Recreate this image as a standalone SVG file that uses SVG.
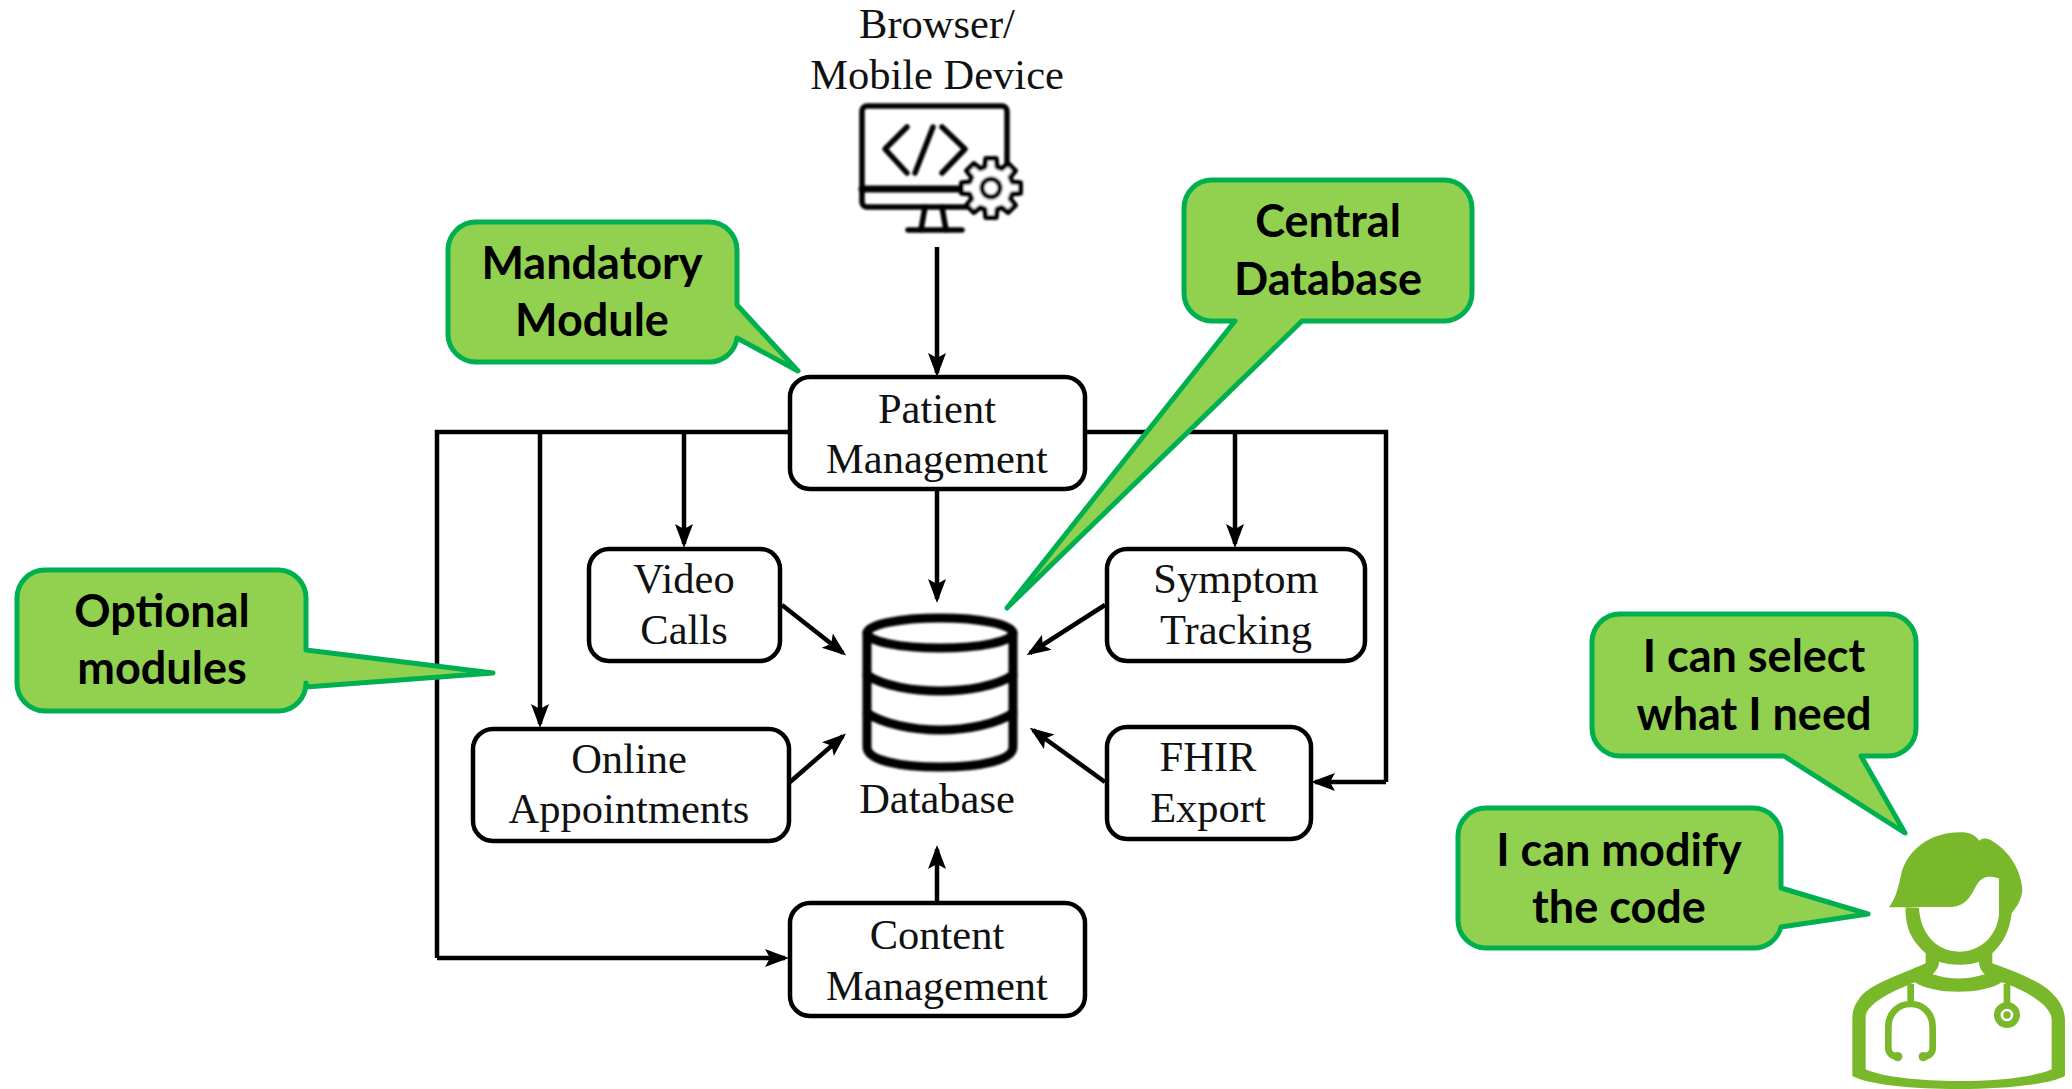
<svg xmlns="http://www.w3.org/2000/svg" width="2072" height="1089" viewBox="0 0 2072 1089">
<defs>
<marker id="ah" markerUnits="userSpaceOnUse" markerWidth="24" markerHeight="20" viewBox="0 0 24 20" refX="20" refY="10" orient="auto"><path d="M0 1 L24 10 L0 19 L5 10Z" fill="#000"/></marker>
<filter id="soft" x="-5%" y="-5%" width="110%" height="110%"><feGaussianBlur stdDeviation="0.9"/></filter>
</defs>
<style>
.box{fill:#fff;stroke:#000;stroke-width:4.5}
.t{font-family:"Liberation Serif","Times New Roman",serif;font-size:42.5px;fill:#111;text-anchor:middle}
.c{font-family:Lato,"Open Sans",sans-serif;font-weight:700;font-size:45px;fill:#000;text-anchor:middle}
.cb{fill:#92D050;stroke:#00B050;stroke-width:5;stroke-linejoin:round}
.ln{fill:none;stroke:#000;stroke-width:4.5}
.ar{fill:none;stroke:#000;stroke-width:4.5;marker-end:url(#ah)}
.ic{fill:none;stroke:#000;stroke-linecap:round;stroke-linejoin:round;filter:url(#soft)}
</style>
<rect width="2072" height="1089" fill="#fff"/>
<g id="connectors">
<path class="ln" d="M790 432H437V958"/>
<path class="ln" d="M1085 432H1386V782"/>
<path class="ar" d="M937 247V373"/>
<path class="ar" d="M937 490V599"/>
<path class="ar" d="M540 432V724"/>
<path class="ar" d="M684 432V544"/>
<path class="ar" d="M1235 432V544"/>
<path class="ar" d="M1386 782H1315"/>
<path class="ar" d="M437 958H785"/>
<path class="ar" d="M937 903V849"/>
<path class="ar" d="M782 605L843 653"/>
<path class="ar" d="M1105 605L1030 653"/>
<path class="ar" d="M790 782L843 736"/>
<path class="ar" d="M1105 782L1033 730"/>
</g>
<g id="browser">
<text class="t" x="937" y="38">Browser/</text>
<text class="t" x="937" y="89">Mobile Device</text>
<g class="ic">
<rect x="862" y="106" width="145" height="101" rx="5" stroke-width="5.5"/>
<path d="M862 189H975" stroke-width="7"/>
<path d="M907 127L885 149L907 173M933 127L915 173M942 127L965 149L942 173" stroke-width="5.5"/>
<path d="M925 207L921 230M942 207L946 230" stroke-width="5.5"/>
<path d="M908 230H962" stroke-width="5.5"/>
<g transform="translate(991 188)">
<path fill="#fff" stroke-width="5" d="M21.1 -6.1L29.5 -5.2L29.5 5.2L21.1 6.1L19.2 10.6L24.5 17.2L17.2 24.5L10.6 19.2L6.1 21.1L5.2 29.5L-5.2 29.5L-6.1 21.1L-10.6 19.2L-17.2 24.5L-24.5 17.2L-19.2 10.6L-21.1 6.1L-29.5 5.2L-29.5 -5.2L-21.1 -6.1L-19.2 -10.6L-24.5 -17.2L-17.2 -24.5L-10.6 -19.2L-6.1 -21.1L-5.2 -29.5L5.2 -29.5L6.1 -21.1L10.6 -19.2L17.2 -24.5L24.5 -17.2L19.2 -10.6Z"/>
<circle r="9" stroke-width="5"/>
</g>
</g>
</g>
<g id="patient-management">
<rect class="box" x="790" y="377" width="295" height="112" rx="20"/>
<text class="t" x="937" y="423">Patient</text>
<text class="t" x="937" y="473">Management</text>
</g>
<g id="video-calls">
<rect class="box" x="589" y="549" width="191" height="112" rx="20"/>
<text class="t" x="684" y="593">Video</text>
<text class="t" x="684" y="644">Calls</text>
</g>
<g id="symptom-tracking">
<rect class="box" x="1107" y="549" width="258" height="112" rx="20"/>
<text class="t" x="1236" y="593">Symptom</text>
<text class="t" x="1236" y="644">Tracking</text>
</g>
<g id="online-appointments">
<rect class="box" x="473" y="729" width="316" height="112" rx="20"/>
<text class="t" x="629" y="773">Online</text>
<text class="t" x="629" y="823">Appointments</text>
</g>
<g id="fhir-export">
<rect class="box" x="1107" y="727" width="204" height="112" rx="20"/>
<text class="t" x="1208" y="771">FHIR</text>
<text class="t" x="1208" y="822">Export</text>
</g>
<g id="content-management">
<rect class="box" x="790" y="903" width="295" height="113" rx="20"/>
<text class="t" x="937" y="949">Content</text>
<text class="t" x="937" y="1000">Management</text>
</g>
<g id="database">
<g class="ic" stroke-width="9">
<ellipse cx="940" cy="633" rx="73" ry="15"/>
<path d="M867 633V747C867 760 898 767 940 767C982 767 1013 760 1013 747V633"/>
<path d="M867 675C883 686 913 691 940 691C967 691 997 686 1013 675"/>
<path d="M867 713C883 724 913 730 940 730C967 730 997 724 1013 713"/>
</g>
<text class="t" x="937" y="813">Database</text>
</g>
<g id="callout-mandatory">
<path class="cb" d="M476 222H709A28 28 0 0 1 737 250V305L798 371L737 338A28 28 0 0 1 709 362H476A28 28 0 0 1 448 334V250A28 28 0 0 1 476 222Z"/>
<text class="c" x="592" y="279">Mandatory</text>
<text class="c" x="592" y="336">Module</text>
</g>
<g id="callout-central">
<path class="cb" d="M1212 180H1444A28 28 0 0 1 1472 208V293A28 28 0 0 1 1444 321H1302L1007 608L1235 321H1212A28 28 0 0 1 1184 293V208A28 28 0 0 1 1212 180Z"/>
<text class="c" x="1328" y="237">Central</text>
<text class="c" x="1328" y="295">Database</text>
</g>
<g id="callout-optional">
<path class="cb" d="M45 570H279A28 28 0 0 1 306 598V650L493 673L306 687V683A28 28 0 0 1 279 711H45A28 28 0 0 1 17 683V598A28 28 0 0 1 45 570Z"/>
<text class="c" x="162" y="627">Optional</text>
<text class="c" x="162" y="684">modules</text>
</g>
<g id="callout-select">
<path class="cb" d="M1620 614H1888A28 28 0 0 1 1916 642V728A28 28 0 0 1 1888 756H1861L1905 833L1784 756H1620A28 28 0 0 1 1592 728V642A28 28 0 0 1 1620 614Z"/>
<text class="c" x="1754" y="672">I can select</text>
<text class="c" x="1754" y="730">what I need</text>
</g>
<g id="callout-modify">
<path class="cb" d="M1486 808H1753A28 28 0 0 1 1781 836V888L1868 914L1781 927A28 28 0 0 1 1753 948H1486A28 28 0 0 1 1458 920V836A28 28 0 0 1 1486 808Z"/>
<text class="c" x="1619" y="866">I can modify</text>
<text class="c" x="1619" y="923">the code</text>
</g>
<g id="doctor" transform="translate(1800 800) scale(.3333)">
<path fill="#78B82A" d="M317 322V340C320 400 345 430 377 460V490C300 525 200 555 175 600C160 620 157 640 157 660V828C250 880 700 880 795 828V660C795 620 770 590 740 565C690 530 630 510 577 490V460C610 430 630 390 635 340L317 322Z"/>
<path fill="#78B82A" d="M267 322C290 290 295 260 303 225C320 150 390 97 480 97C505 97 520 100 538 122C550 112 565 115 580 125C630 155 665 215 667 270C665 300 650 320 635 340L597 345V322H267Z"/>
<path fill="#fff" d="M357 322H440C500 322 510 290 530 255C545 230 565 225 597 235V345C590 410 540 455 477 455C410 455 360 400 357 322Z"/>
<path fill="#fff" d="M417 485C450 497 510 497 537 485C537 500 545 515 555 523C500 540 450 540 398 523C410 510 417 500 417 485Z"/>
<path fill="#fff" d="M197 808V650C200 615 260 580 345 547C400 585 550 585 605 547C660 565 755 610 755 660V808C650 855 300 855 197 808Z"/>
<g fill="none" stroke="#78B82A" stroke-width="20">
<path d="M332 552V612"/>
<path stroke-linecap="round" d="M265 680C265 640 295 612 332 612C369 612 398 640 398 680V745C398 760 385 770 370 770M265 680V745C265 760 278 770 293 770"/>
<path d="M621 552V610"/>
<circle cx="621" cy="645" r="29"/>
</g>
<circle cx="293" cy="770" r="14" fill="#78B82A"/>
<circle cx="370" cy="770" r="14" fill="#78B82A"/>
<circle cx="621" cy="645" r="11" fill="#78B82A"/>
</g>
</svg>
